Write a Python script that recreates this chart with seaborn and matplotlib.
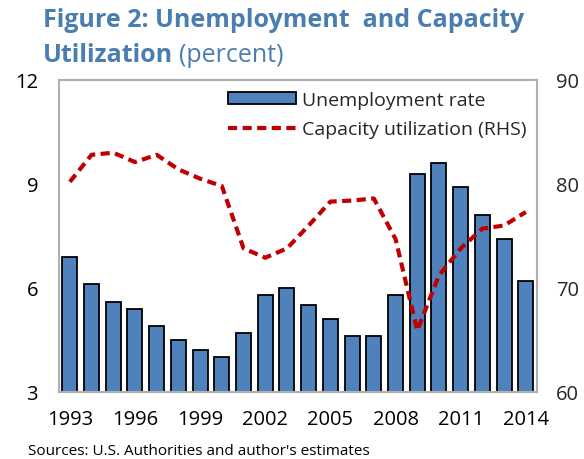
import numpy as np
import pandas as pd
import matplotlib
matplotlib.use("Agg")
import matplotlib.pyplot as plt
import seaborn as sns
from matplotlib.patches import Patch
from matplotlib.lines import Line2D

# data
years = list(range(1993, 2015))
unemployment = [6.9, 6.1, 5.6, 5.4, 4.9, 4.5, 4.2, 4.0, 4.7, 5.8, 6.0,
                5.5, 5.1, 4.6, 4.6, 5.8, 9.3, 9.6, 8.9, 8.1, 7.4, 6.2]
capacity = [80.2, 82.8, 83.0, 82.1, 82.8, 81.4, 80.5, 79.8, 73.8, 72.9, 73.8,
            76.0, 78.3, 78.4, 78.6, 74.7, 65.9, 71.2, 73.8, 75.7, 76.0, 77.3]
year_ticks = [1993, 1996, 1999, 2002, 2005, 2008, 2011, 2014]
left_ticks = [3, 6, 9, 12]
right_ticks = [60, 70, 80, 90]

df = pd.DataFrame({"year": years, "unemp": unemployment, "cap": capacity})

sns.set_style("white")
plt.rcParams["font.family"] = ["Open Sans", "DejaVu Sans"]

blue = "#4f81bd"
red = "#c00000"
title_col = "#4a7db0"

fig = plt.figure(figsize=(5.84, 4.6), dpi=100)
ax = fig.add_axes([0.101, 0.146, 0.818, 0.678])

sns.barplot(data=df, x="year", y="unemp", native_scale=True, color=blue,
            edgecolor="black", linewidth=1.3, width=0.69, saturation=1, ax=ax)
ax.set_xlim(1992.5, 2014.5)
ax.set_ylim(3, 12)
ax.set_yticks(left_ticks)
ax.set_xticks(year_ticks)
ax.set_xticklabels([str(y) for y in year_ticks])
ax.set_xlabel("")
ax.set_ylabel("")
ax.tick_params(length=0, labelsize=14.5, colors="black")
ax.tick_params(axis="y", pad=15)
ax.tick_params(axis="x", pad=12)
for s in ax.spines.values():
    s.set_color("#b0b0b0")
    s.set_linewidth(1.5)

ax2 = ax.twinx()
sns.lineplot(data=df, x="year", y="cap", color=red, linewidth=3,
             linestyle=(0, (2.2, 1.3)), ax=ax2)
ax2.set_ylim(60, 90)
ax2.set_yticks(right_ticks)
ax2.set_ylabel("")
ax2.tick_params(length=0, labelsize=14.5, pad=14)
for s in ax2.spines.values():
    s.set_visible(False)

handles = [Patch(facecolor=blue, edgecolor="black", linewidth=1.3),
           Line2D([], [], color=red, linewidth=3, linestyle=(0, (2.2, 1.3)))]
ax.legend(handles, ["Unemployment rate", "Capacity utilization (RHS)"],
          loc="upper right", bbox_to_anchor=(1.0, 1.0), frameon=False,
          fontsize=14, handlelength=3.5, handleheight=0.6, handletextpad=0.3,
          labelspacing=0.6, borderaxespad=0.15)

# title in two lines, second line mixed weight
fig.text(0.074, 0.955, "Figure 2: Unemployment  and Capacity", fontsize=18,
         fontweight="bold", color=title_col, va="center", ha="left")
t1 = fig.text(0.074, 0.88, "Utilization", fontsize=18, fontweight="bold",
              color=title_col, va="center", ha="left")
fig.canvas.draw()
bb = t1.get_window_extent(fig.canvas.get_renderer())
x_next = bb.x1 / fig.bbox.width + 0.01
fig.text(x_next, 0.88, "(percent)", fontsize=18, color=title_col,
         va="center", ha="left")

fig.text(0.048, 0.018, "Sources: U.S. Authorities and author's estimates",
         fontsize=11, color="black", va="center", ha="left")

fig.savefig("out.png", dpi=100)
